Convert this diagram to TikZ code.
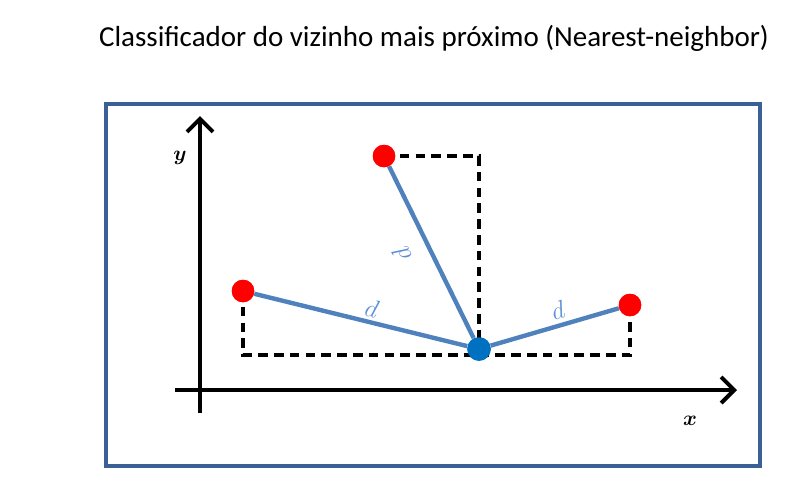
\documentclass[tikz,border=0pt]{standalone}
\usepackage{fontspec}
\setmainfont{Carlito}
\usetikzlibrary{arrows.meta}
\definecolor{framecol}{HTML}{3A6095}
\definecolor{linecol}{HTML}{4F81BD}
\definecolor{labcol}{HTML}{5B8FD6}
\definecolor{querycol}{HTML}{0070C0}
\tikzset{
  axis/.style={line width=2.3pt,-{Straight Barb[length=2.6mm,width=5.2mm,line width=2.3pt]}},
  dashline/.style={line width=1.8pt,dash pattern=on 5.5pt off 3.5pt},
  distline/.style={linecol,line width=2.5pt},
  redpt/.style={circle,fill=red,minimum size=4.5mm,inner sep=0pt},
  bluept/.style={circle,fill=querycol,minimum size=4.7mm,inner sep=0pt},
  dlab/.style={labcol,font=\Large},
  axlab/.style={font=\large\boldmath},
}
\begin{document}
\begin{tikzpicture}[x=0.2mm,y=-0.2mm]
        \useasboundingbox (0,0) rectangle (789,482);
        % Title
        \node (title) at (434,38) {\fontsize{16.5}{20}\selectfont Classificador do vizinho mais próximo (Nearest-neighbor)};
        % Frame
        \draw[framecol,line width=2pt] (106,104) rectangle (760,466);
        % Draw axes
        \coordinate (ybot) at (200,413);
        \coordinate (ytop) at (200,116);
        \coordinate (xleft) at (175,390);
        \coordinate (xright) at (737,390);
        \draw[axis] (ybot) -- (ytop);
        \draw[axis] (xleft) -- (xright);
        \node[axlab] (ylab) at (180,158) {$y$};
        \node[axlab] (xlab) at (690,421) {$x$};
        % Points
        \node[bluept] (q) at (479,349) {};
        \node[redpt] (p1) at (384,156) {};
        \node[redpt] (p2) at (243,291) {};
        \node[redpt] (p3) at (630,305) {};
        \coordinate (base) at (479,355);
        % Dashed projections
        \draw[dashline] (p1.center) -- (p1.center -| q) -- (q.center);
        \draw[dashline] (p2.center) -- (p2 |- base) -- (base -| p3) -- (p3.center);
        % Distances
        \draw[distline] (p1) -- (q);
        \draw[distline] (p2) -- (q);
        \draw[distline] (p3) -- (q);
        \node[bluept] at (q) {};
        \node[redpt] at (p1) {};
        \node[redpt] at (p2) {};
        \node[redpt] at (p3) {};
        \node[dlab,rotate=-14] (d2) at (372,309) {$d$};
        \node[dlab,rotate=116] (d1) at (402,255) {$d$};
        \node[dlab,rotate=16] (d3) at (558,310) {$d$};
\end{tikzpicture}
\end{document}
